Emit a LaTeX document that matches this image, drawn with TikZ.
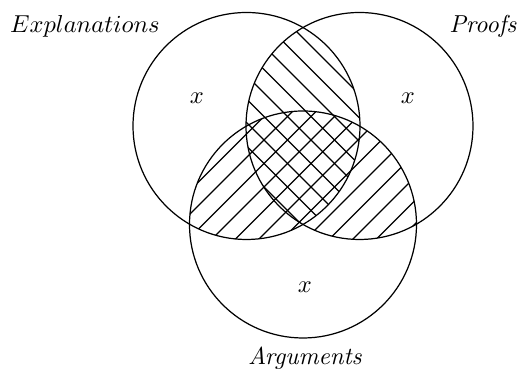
\documentclass[tikz,border=0pt]{standalone}
\begin{document}
\begin{tikzpicture}[x=0.408pt,y=-0.408pt,
  circ/.style={line width=0.5pt},
  hatch/.style={line width=0.45pt},
  lbl/.style={anchor=base, inner sep=0pt}]
\useasboundingbox (0,0) rectangle (521,371);
\coordinate (L) at (246.5,126);
\coordinate (R) at (359.5,126);
\coordinate (B) at (303,224.5);
% top lens: \ lines
\begin{scope}
  \clip (L) circle (113.5);
  \clip (R) circle (113.5);
  \foreach \k in {-6,...,12} \draw[hatch] ({124+23.5*\k},0) -- ++(371,371);
\end{scope}
% bottom with union: / lines
\begin{scope}
  \clip (B) circle (113.5);
  \clip (L) circle (113.5) (R) circle (113.5);
  \foreach \k in {-6,...,16} \draw[hatch] ({404+23.5*\k},0) -- ++(-371,371);
\end{scope}
\draw[circ] (L) circle (113.5);
\draw[circ] (R) circle (113.5);
\draw[circ] (B) circle (113.5);
\node[lbl] (expl) at (85,33) {$Explanations$};
\node[lbl] (proofs) at (483,33) {\textit{Proofs}};
\node[lbl] (args) at (305,365) {\textit{Arguments}};
\node[lbl] (xl) at (197,104) {$x$};
\node[lbl] (xr) at (408,104) {$x$};
\node[lbl] (xb) at (305,293) {$x$};
\end{tikzpicture}
\end{document}
